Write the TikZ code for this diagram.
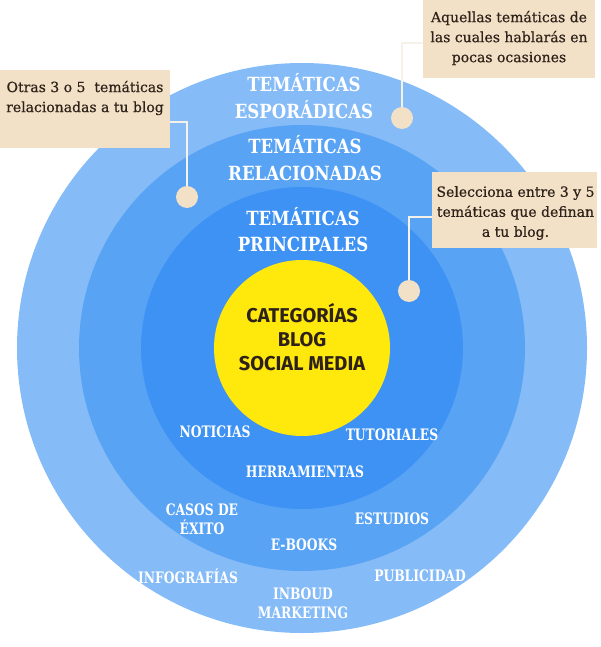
\documentclass[tikz,border=0pt]{standalone}
\usepackage{fontspec}
\setmainfont{DejaVu Serif}
\newfontfamily\slabfont[FakeStretch=0.85]{DejaVu Serif}
\newfontfamily\tagfont[FakeStretch=0.78]{DejaVu Serif}
\newfontfamily\notefont[FakeBold=0.5]{DejaVu Serif}
\newfontfamily\corefont{Fira Sans}
\usetikzlibrary{positioning}

\definecolor{ringA}{RGB}{133,187,247}
\definecolor{ringB}{RGB}{89,163,245}
\definecolor{ringC}{RGB}{61,146,244}
\definecolor{core}{RGB}{255,233,12}
\definecolor{note}{RGB}{242,225,198}
\definecolor{ink}{RGB}{45,33,25}
\definecolor{wire}{RGB}{246,241,233}

\begin{document}
\begin{tikzpicture}[x=1pt, y=-1pt,
    lbl/.style={text=white, align=center, inner sep=0pt,
      font=\tagfont\bfseries\fontsize{15.8}{19}\selectfont},
    head/.style={lbl, font=\slabfont\bfseries\fontsize{19.5}{27}\selectfont},
    notebox/.style={fill=note, inner sep=0pt},
    notetext/.style={text=ink, align=center, inner sep=0pt,
      font=\notefont\fontsize{14}{20}\selectfont},
    pin/.style={circle, fill=note, minimum size=22pt, inner sep=0pt},
    wire/.style={draw=wire, line width=1.5pt}]
  \useasboundingbox (0,0) rectangle (601,647);
  \coordinate (o) at (302,348);
  % Rings, outside in.
  \fill[ringA] (o) circle (285pt);
  \fill[ringB] (o) circle (223pt);
  \fill[ringC] (o) circle (161pt);
  \fill[core] (o) circle (88pt);

  \node[head] (espor) at (304,96.5) {TEMÁTICAS\\ESPORÁDICAS};
  \node[head] (relac) at (305,158.5) {TEMÁTICAS\\RELACIONADAS};
  \node[head, font=\slabfont\bfseries\fontsize{19.5}{26}\selectfont]
    (princ) at (303,230) {TEMÁTICAS\\PRINCIPALES};
  \node[text=ink, align=center, inner sep=0pt,
    font=\corefont\bfseries\fontsize{20}{24}\selectfont]
    (categ) at (302,337) {CATEGORÍAS\\BLOG\\SOCIAL MEDIA};

  % Inner ring labels.
  \node[lbl] (noticias) at (215,432) {NOTICIAS};
  \node[lbl] (tutoriales) at (392,435) {TUTORIALES};
  \node[lbl] (herramientas) at (305,472) {HERRAMIENTAS};
  % Middle ring labels.
  \node[lbl] (casos) at (202,519.5) {CASOS DE\\ÉXITO};
  \node[lbl] (estudios) at (392,519) {ESTUDIOS};
  \node[lbl] (ebooks) at (304,545) {E-BOOKS};
  % Outer ring labels.
  \node[lbl] (infograf) at (188,576) {INFOGRAFÍAS};
  \node[lbl] (publicidad) at (420,576) {PUBLICIDAD};
  \node[lbl] (inboud) at (303,603.5) {INBOUD\\MARKETING};

  % Notes.
  \node[notebox, minimum width=172pt, minimum height=78pt] (esporbox) at (509,39) {};
  \node[notetext] (esportext) at (509,38)
    {Aquellas temáticas de\\las cuales hablarás en\\pocas ocasiones};
  \node[notebox, minimum width=170pt, minimum height=78pt] (relacbox) at (85,109) {};
  \node[notetext] (relactext) at (85,98)
    {Otras 3 o 5\ \ temáticas\\relacionadas a tu blog};
  \node[notebox, minimum width=165pt, minimum height=76pt] (princbox) at (514.5,210) {};
  \node[notetext] (princtext) at (515.5,213)
    {Selecciona entre 3 y 5\\temáticas que definan\\a tu blog.};

  \node[pin] (esporpin) at (402,118) {};
  \node[pin] (relacpin) at (187,197) {};
  \node[pin] (princpin) at (409,291) {};
  \draw[wire] (esporpin.north) |- ([yshift=-4pt]esporbox.west);
  \draw[wire] (relacpin.north) |- ([yshift=-13pt]relacbox.east);
  \draw[wire] (princpin.north) |- ([yshift=-7pt]princbox.west);
\end{tikzpicture}
\end{document}
